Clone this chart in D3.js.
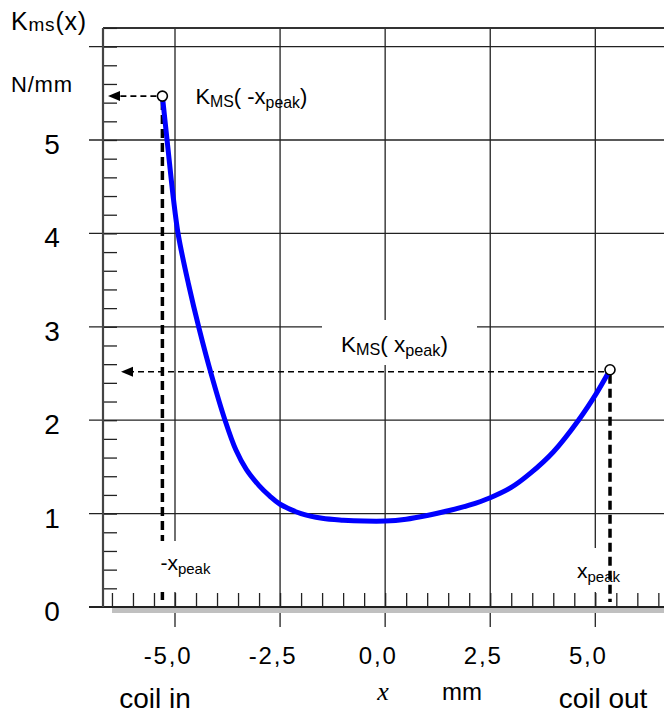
<!DOCTYPE html>
<html>
<head>
<meta charset="utf-8">
<script src="https://cdn.jsdelivr.net/npm/d3@7"></script>
<style>
  body { margin: 0; background: #fff; }
  text { font-family: "Liberation Sans", Arial, sans-serif; fill: #000; }
</style>
</head>
<body>
<svg id="chart" width="664" height="713"></svg>
<script>
// curve K_ms(x), N/mm vs x, mm
const xVals = [-5.30, -5.17, -5.04, -4.92, -4.68, -4.42, -4.13, -3.81, -3.55, -3.30, -3.0, -2.75, -2.5,
  -2.0, -1.5, -1.0, -0.5, 0.0, 0.5, 1.0, 1.5, 2.0, 2.5, 3.0, 3.45, 4.0, 4.6, 5.03, 5.35];
const kVals = [5.47, 4.92, 4.38, 3.98, 3.46, 2.97, 2.48, 2.0, 1.68, 1.47, 1.30, 1.19, 1.1,
  1.0, 0.95, 0.93, 0.92, 0.92, 0.94, 0.98, 1.03, 1.09, 1.17, 1.28, 1.43, 1.66, 2.0, 2.29, 2.54];

// the two peak points (-x_peak, x_peak)
const peakX = [-5.30, 5.35];
const peakK = [5.47, 2.54];

const xTicks = [-5, -2.5, 0, 2.5, 5];
const xTickLabels = ["-5,0", "-2,5", "0,0", "2,5", "5,0"];
const yTicks = [0, 1, 2, 3, 4, 5];
const yTickLabels = ["0", "1", "2", "3", "4", "5"];
const yGrid = [1, 2, 3, 4, 5, 6];

const svg = d3.select("#chart");
const W = +svg.attr("width");

const x = d3.scaleLinear().domain([-5, 5]).range([175, 595.3]);
const y = d3.scaleLinear().domain([0, 5]).range([607, 140]);

const xLeft = x.invert(103);   // y axis position
const yTop = 6.2;

const g = svg.append("g");

// horizontal grid
g.selectAll(".hgrid").data(yGrid).join("line")
  .attr("x1", 89).attr("x2", W)
  .attr("y1", d => y(d)).attr("y2", d => y(d))
  .attr("stroke", "#222").attr("stroke-width", 1.3);

// vertical grid
g.selectAll(".vgrid").data(xTicks).join("line")
  .attr("x1", d => x(d)).attr("x2", d => x(d))
  .attr("y1", y(yTop)).attr("y2", 627)
  .attr("stroke", "#222").attr("stroke-width", 1.3);

// top border
g.append("line")
  .attr("x1", x(xLeft)).attr("x2", W)
  .attr("y1", y(yTop)).attr("y2", y(yTop))
  .attr("stroke", "#333").attr("stroke-width", 2);

// grey band under x axis
g.append("rect")
  .attr("x", 112).attr("y", y(0))
  .attr("width", W - 112).attr("height", 6)
  .attr("fill", "#c0c0c0");

// minor ticks with axes
const yMinor = d3.range(1, 32).map(i => +(i * 0.2).toFixed(1));
g.append("g")
  .attr("transform", `translate(${x(xLeft)},0)`)
  .call(d3.axisRight(y).tickValues(yMinor).tickSize(14).tickFormat(""))
  .call(a => a.select(".domain").remove())
  .call(a => a.selectAll("line").attr("stroke", "#222").attr("stroke-width", 1.3));

const xMinor = d3.range(-13, 14).map(i => i * 0.5);
g.append("g")
  .attr("transform", `translate(0,${y(0)})`)
  .call(d3.axisTop(x).tickValues(xMinor).tickSize(14).tickFormat(""))
  .call(a => a.select(".domain").remove())
  .call(a => a.selectAll("line").attr("stroke", "#222").attr("stroke-width", 1.3));

// x axis line
g.append("line")
  .attr("x1", 89).attr("x2", W)
  .attr("y1", y(0)).attr("y2", y(0))
  .attr("stroke", "#222").attr("stroke-width", 2);

// y axis line
g.append("line")
  .attr("x1", x(xLeft)).attr("x2", x(xLeft))
  .attr("y1", y(yTop)).attr("y2", y(0))
  .attr("stroke", "#444").attr("stroke-width", 2.2);

// dashed verticals from the peaks
g.selectAll(".vdash").data(peakX).join("line")
  .attr("x1", d => x(d)).attr("x2", d => x(d))
  .attr("y1", (d, i) => y(peakK[i]) + 5).attr("y2", 602)
  .attr("stroke", "#000").attr("stroke-width", 3.5)
  .attr("stroke-dasharray", "9,5");

// white boxes behind labels
const boxes = [
  [322, 320, 155, 45],
  [152, 541, 66, 51],
  [572, 548, 30, 44]
];
g.selectAll(".box").data(boxes).join("rect")
  .attr("x", d => d[0]).attr("y", d => d[1])
  .attr("width", d => d[2]).attr("height", d => d[3])
  .attr("fill", "#fff");

// dashed arrows to the y axis
const arrowTips = [108, 121];
peakX.forEach((px, i) => {
  const yy = y(peakK[i]) + (i === 1 ? 2 : 0);
  g.append("line")
    .attr("x1", x(px) - 6).attr("x2", arrowTips[i] + 10)
    .attr("y1", yy).attr("y2", yy)
    .attr("stroke", "#000").attr("stroke-width", 1.6)
    .attr("stroke-dasharray", "6,4");
  g.append("path")
    .attr("d", `M${arrowTips[i]},${yy} l12,-5 l0,10 z`)
    .attr("fill", "#000");
});

// curve
const line = d3.line()
  .x((d, i) => x(xVals[i]))
  .y(d => y(d))
  .curve(d3.curveCatmullRom.alpha(0.5));

g.append("path")
  .attr("d", line(kVals))
  .attr("fill", "none")
  .attr("stroke", "#0000ff")
  .attr("stroke-width", 5);

// peak markers
g.selectAll(".peak").data(peakX).join("circle")
  .attr("cx", d => x(d))
  .attr("cy", (d, i) => y(peakK[i]))
  .attr("r", 5)
  .attr("fill", "#fff")
  .attr("stroke", "#000")
  .attr("stroke-width", 1.6);

// tick labels
g.selectAll(".ylab").data(yTicks).join("text")
  .attr("x", 52).attr("y", d => y(d) + 14)
  .attr("text-anchor", "middle")
  .attr("font-size", 28)
  .text((d, i) => yTickLabels[i]);

g.selectAll(".xlab").data(xTicks).join("text")
  .attr("x", d => x(d) - 7).attr("y", 664)
  .attr("text-anchor", "middle")
  .attr("font-size", 24)
  .attr("letter-spacing", 1.8)
  .text((d, i) => xTickLabels[i]);

// axis titles
const t1 = g.append("text").attr("x", 11).attr("y", 30).attr("font-size", 25).attr("letter-spacing", 0.8);
t1.append("tspan").text("K");
t1.append("tspan").attr("font-size", 19).attr("dy", 1).text("ms");
t1.append("tspan").attr("dy", -1).text("(x)");

g.append("text").attr("x", 11).attr("y", 92)
  .attr("font-size", 22).attr("letter-spacing", 0.8).text("N/mm");

g.append("text").attr("x", 155).attr("y", 708)
  .attr("text-anchor", "middle").attr("font-size", 28).text("coil in");
g.append("text").attr("x", 603).attr("y", 708)
  .attr("text-anchor", "middle").attr("font-size", 28).text("coil out");
g.append("text").attr("x", 383).attr("y", 700)
  .attr("text-anchor", "middle").attr("font-size", 26)
  .style("font-family", "'Liberation Serif', 'Times New Roman', serif")
  .attr("font-style", "italic").text("x");
g.append("text").attr("x", 462).attr("y", 700)
  .attr("text-anchor", "middle").attr("font-size", 24).text("mm");

// annotation labels
function kmsLabel(xp, yp, size, minus) {
  const t = g.append("text").attr("x", xp).attr("y", yp).attr("font-size", size);
  t.append("tspan").text("K");
  t.append("tspan").attr("font-size", size * 0.72).attr("dy", 3).text("MS");
  t.append("tspan").attr("dy", -3).text(minus ? "( -x" : "( x");
  t.append("tspan").attr("font-size", size * 0.72).attr("dy", 4).text("peak");
  t.append("tspan").attr("dy", -4).text(")");
}
kmsLabel(x(peakX[0]) + 33, y(peakK[0]) + 8, 22, true);
kmsLabel(341, 352, 22.5, false);

function peakLabel(xp, yp, minus) {
  const t = g.append("text").attr("x", xp).attr("y", yp).attr("font-size", 21);
  t.append("tspan").text(minus ? "-x" : "x");
  t.append("tspan").attr("font-size", 15).attr("dy", 4).text("peak");
}
peakLabel(x(peakX[0]) - 2, 570, true);
peakLabel(577, 578, false);
</script>
</body>
</html>
